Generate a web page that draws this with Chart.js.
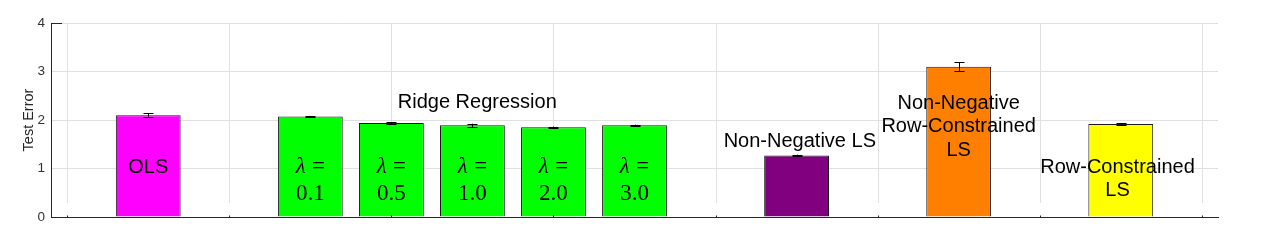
<!DOCTYPE html>
<html><head><meta charset="utf-8">
<script src="https://cdn.jsdelivr.net/npm/chart.js@4"></script>
<style>html,body{margin:0;padding:0;background:#fff}canvas{display:block}</style>
</head><body>
<canvas id="c" width="1263" height="245"></canvas>
<script>
// ---- data ----
const categories = ["OLS", "λ = 0.1", "λ = 0.5", "λ = 1.0", "λ = 2.0", "λ = 3.0",
  "Non-Negative LS", "Non-Negative Row-Constrained LS", "Row-Constrained LS"];
const xSlots = [0, 2, 3, 4, 5, 6, 8, 10, 12];
const testError = [2.10, 2.07, 1.94, 1.89, 1.85, 1.89, 1.27, 3.10, 1.92];
const errorHalf = [0.035, 0.015, 0.02, 0.035, 0.015, 0.015, 0.015, 0.09, 0.015];
const barColors = ["#ff00ff", "#00ff00", "#00ff00", "#00ff00", "#00ff00", "#00ff00",
  "#800080", "#ff8000", "#ffff00"];
const yTicks = [0, 1, 2, 3, 4];
const xGridTicks = [-1, 1, 3, 5, 7, 9, 11, 13];
const lambdaIdx = [1, 2, 3, 4, 5];
const lambdaValues = ["0.1", "0.5", "1.0", "2.0", "3.0"];
const lambdaTopY = 1.07;
const lambdaBottomY = 0.50;
const textLabels = [
  { lines: ["OLS"], x: 0, y: 1.06 },
  { lines: ["Ridge Regression"], x: 4.06, y: 2.40 },
  { lines: ["Non-Negative LS"], x: 8.04, y: 1.59 },
  { lines: ["Non-Negative", "Row-Constrained", "LS"], x: 10.0, y: 2.38 },
  { lines: ["Row-Constrained", "LS"], x: 11.96, y: 1.06 }
];

const AXIS = "#262626";
const GRID = "#e0e0e0";
const SANS = '"Liberation Sans", Arial, sans-serif';
const SERIF = '"Liberation Serif", "Times New Roman", serif';

const overlay = {
  id: "overlay",
  beforeDatasetsDraw(chart) {
    const { ctx, chartArea, scales: { x, y } } = chart;
    ctx.save();
    ctx.strokeStyle = GRID;
    ctx.lineWidth = 1;
    const yEnd = chartArea.bottom - 14;
    xGridTicks.forEach(v => {
      const px = Math.round(x.getPixelForValue(v)) + 0.5;
      ctx.beginPath();
      ctx.moveTo(px, chartArea.top);
      ctx.lineTo(px, yEnd);
      ctx.stroke();
    });
    ctx.restore();
  },
  afterDatasetsDraw(chart) {
    const { ctx, chartArea, scales: { x, y } } = chart;
    ctx.save();
    ctx.strokeStyle = AXIS;
    ctx.lineWidth = 1;
    const by = Math.round(chartArea.bottom) + 0.5;
    ctx.beginPath();
    ctx.moveTo(chartArea.left, by);
    ctx.lineTo(chartArea.right, by);
    ctx.stroke();
    xGridTicks.forEach(v => {
      const px = Math.round(x.getPixelForValue(v)) + 0.5;
      ctx.beginPath();
      ctx.moveTo(px, by);
      ctx.lineTo(px, by - 2);
      ctx.stroke();
    });
    const ty = Math.round(y.getPixelForValue(yTicks[yTicks.length - 1])) + 0.5;
    ctx.beginPath();
    ctx.moveTo(chartArea.left, ty);
    ctx.lineTo(chartArea.left + 11, ty);
    ctx.stroke();

    // error bars
    ctx.strokeStyle = "#000";
    testError.forEach((v, i) => {
      const px = Math.round(x.getPixelForValue(xSlots[i])) + 0.5;
      const yt = y.getPixelForValue(v + errorHalf[i]);
      const yb = y.getPixelForValue(v - errorHalf[i]);
      ctx.beginPath();
      ctx.moveTo(px, yt); ctx.lineTo(px, yb);
      ctx.moveTo(px - 5, Math.round(yt) + 0.5); ctx.lineTo(px + 5, Math.round(yt) + 0.5);
      ctx.moveTo(px - 5, Math.round(yb) + 0.5); ctx.lineTo(px + 5, Math.round(yb) + 0.5);
      ctx.stroke();
    });

    // text labels
    ctx.fillStyle = "#000";
    ctx.textAlign = "center";
    ctx.textBaseline = "alphabetic";
    const fs = 20, lh = 23.7;
    ctx.font = fs + "px " + SANS;
    textLabels.forEach(t => {
      const cx = x.getPixelForValue(t.x);
      const cy = y.getPixelForValue(t.y);
      t.lines.forEach((ln, k) => {
        ctx.fillText(ln, cx, cy + k * lh + 0.36 * fs);
      });
    });

    // lambda labels
    const ls = 23;
    lambdaIdx.forEach((bi, k) => {
      const cx = x.getPixelForValue(xSlots[bi]);
      const cyTop = y.getPixelForValue(lambdaTopY);
      const cyBot = y.getPixelForValue(lambdaBottomY);
      ctx.font = "italic " + ls + "px " + SERIF;
      const wl = ctx.measureText("λ").width;
      ctx.font = ls + "px " + SERIF;
      const gap = 0.28 * ls;
      const we = ctx.measureText("=").width;
      const total = wl + gap + we;
      const x0 = cx - total / 2;
      ctx.textAlign = "left";
      ctx.font = "italic " + ls + "px " + SERIF;
      ctx.fillText("λ", x0, cyTop + 0.33 * ls);
      ctx.font = ls + "px " + SERIF;
      ctx.fillText("=", x0 + wl + gap, cyTop + 0.33 * ls);
      ctx.textAlign = "center";
      ctx.fillText(lambdaValues[k], cx, cyBot + 0.33 * ls);
    });
    ctx.restore();
  }
};

new Chart(document.getElementById("c"), {
  type: "bar",
  data: {
    labels: categories,
    datasets: [{
      data: xSlots.map((s, i) => ({ x: s, y: testError[i] })),
      backgroundColor: barColors,
      borderColor: "#1a1a1a",
      borderWidth: 1,
      categoryPercentage: 0.8,
      barPercentage: 1.0
    }]
  },
  options: {
    responsive: false,
    animation: false,
    devicePixelRatio: 1,
    layout: { padding: { top: 23, right: 45, left: 0, bottom: 0 } },
    plugins: { legend: { display: false }, tooltip: { enabled: false }, title: { display: false } },
    scales: {
      x: {
        type: "linear",
        min: -1.2, max: 13.2,
        offset: false,
        afterBuildTicks: s => { s.ticks = xGridTicks.map(v => ({ value: v })); },
        afterFit: s => { s.height = 28; },
        ticks: { display: false },
        grid: { display: false, drawTicks: false },
        border: { display: true, color: AXIS, width: 1 }
      },
      y: {
        min: 0, max: 4,
        afterBuildTicks: s => { s.ticks = yTicks.map(v => ({ value: v })); },
        afterFit: s => { s.width = 51; },
        ticks: { color: "#333333", font: { family: SANS, size: 13.5 }, padding: 6 },
        grid: { color: GRID, lineWidth: 1, drawTicks: false },
        border: { display: true, color: AXIS, width: 1 },
        title: { display: true, text: "Test Error", color: AXIS,
                 font: { family: SANS, size: 14.5 }, padding: { top: 20, bottom: 0 } }
      }
    }
  },
  plugins: [overlay]
});
</script>
</body></html>
